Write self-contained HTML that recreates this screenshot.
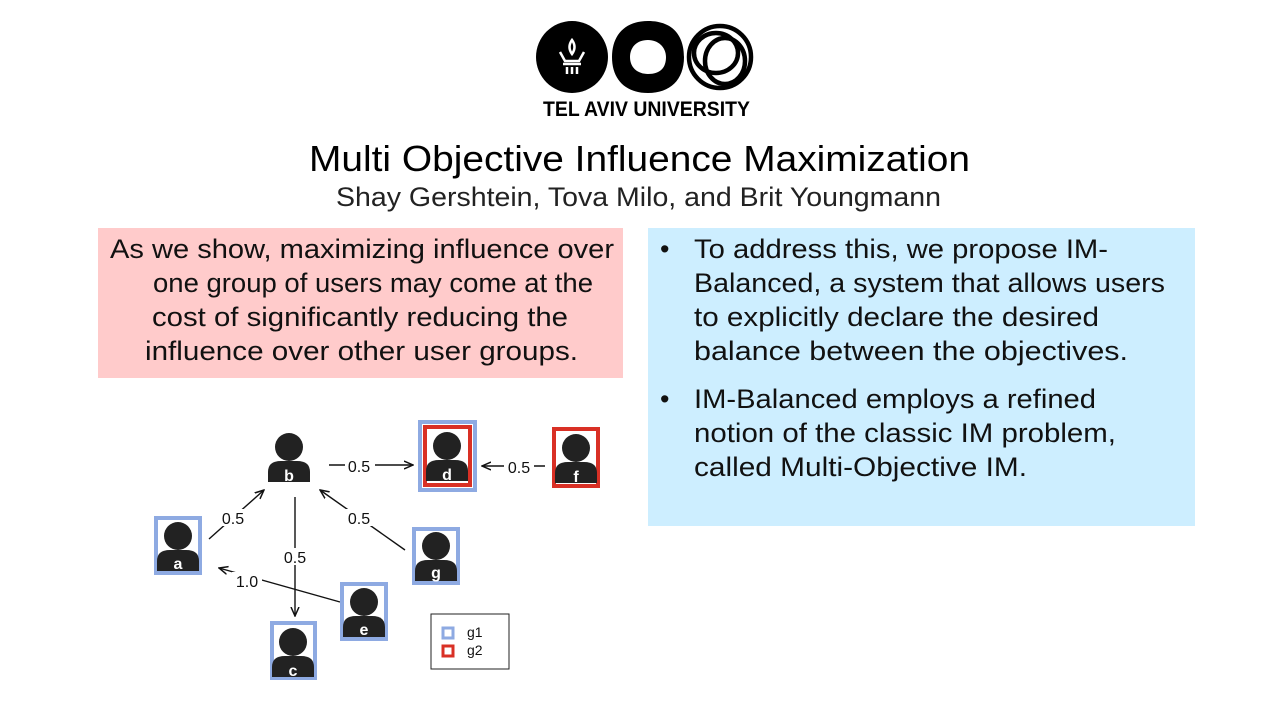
<!DOCTYPE html>
<html><head><meta charset="utf-8"><style>html,body{margin:0;padding:0;background:#fff;}svg{display:block}</style></head>
<body>
<svg width="1280" height="720" viewBox="0 0 1280 720" xmlns="http://www.w3.org/2000/svg" font-family="Liberation Sans, sans-serif">
<defs>
<marker id="ar" markerWidth="10" markerHeight="10" refX="9" refY="5" orient="auto" markerUnits="userSpaceOnUse">
<path d="M0,1 L9,5 L0,9" fill="none" stroke="#111" stroke-width="1.5"/>
</marker>
<g id="p">
<circle cx="0" cy="-11" r="14" fill="#222"/>
<path d="M-21,24 V14 Q-21,3 -8,3 L8,3 Q21,3 21,14 V24 Z" fill="#222"/>
</g>
</defs>
<!-- logo -->
<circle cx="572" cy="57" r="36" fill="#000"/>
<path d="M572,40 q5,7 0,14 q-5,-7 0,-14z M560,52 l5,9 h14 l5,-9 M563,64 h18 M567,67 v7 M572,67 v7 M577,67 v7" fill="none" stroke="#fff" stroke-width="2.5"/>
<path fill="#000" fill-rule="evenodd" d="M648,21 C675,21 684,38 684,57 C684,80 670,93 648,93 C626,93 612,80 612,57 C612,36 624,21 648,21 Z M648,40 C636,40 630,48 630,57 C630,68 638,74 648,74 C660,74 666,68 666,57 C666,47 658,40 648,40 Z"/>
<g fill="none" stroke="#000" stroke-width="4.5">
<circle cx="720" cy="57" r="31"/>
<ellipse cx="716" cy="53" rx="22" ry="20"/>
<ellipse cx="725" cy="61" rx="20" ry="23"/>
</g>
<text x="543" y="116" font-size="21" font-weight="bold" textLength="207" lengthAdjust="spacingAndGlyphs">TEL AVIV UNIVERSITY</text>
<!-- title -->
<text x="309" y="171" font-size="36" textLength="661" lengthAdjust="spacingAndGlyphs">Multi Objective Influence Maximization</text>
<text x="336" y="206" font-size="27" fill="#222" textLength="605" lengthAdjust="spacingAndGlyphs">Shay Gershtein, Tova Milo, and Brit Youngmann</text>
<!-- boxes -->
<rect x="98" y="228" width="525" height="150" fill="#ffcbcb"/>
<rect x="648" y="228" width="547" height="298" fill="#cdeeff"/>
<g font-size="27" fill="#111">
<text x="110" y="258" textLength="504" lengthAdjust="spacingAndGlyphs">As we show, maximizing influence over</text>
<text x="153" y="292" textLength="440" lengthAdjust="spacingAndGlyphs">one group of users may come at the</text>
<text x="152" y="326" textLength="416" lengthAdjust="spacingAndGlyphs">cost of significantly reducing the</text>
<text x="145" y="360" textLength="433" lengthAdjust="spacingAndGlyphs">influence over other user groups.</text>
<text x="660" y="258">•</text>
<text x="694" y="258" textLength="414" lengthAdjust="spacingAndGlyphs">To address this, we propose IM-</text>
<text x="694" y="292" textLength="471" lengthAdjust="spacingAndGlyphs">Balanced, a system that allows users</text>
<text x="694" y="326" textLength="405" lengthAdjust="spacingAndGlyphs">to explicitly declare the desired</text>
<text x="694" y="360" textLength="434" lengthAdjust="spacingAndGlyphs">balance between the objectives.</text>
<text x="660" y="408">•</text>
<text x="694" y="408" textLength="402" lengthAdjust="spacingAndGlyphs">IM-Balanced employs a refined</text>
<text x="694" y="442" textLength="422" lengthAdjust="spacingAndGlyphs">notion of the classic IM problem,</text>
<text x="694" y="476" textLength="333" lengthAdjust="spacingAndGlyphs">called Multi-Objective IM.</text>
</g>
<!-- graph edges -->
<g stroke="#111" stroke-width="1.4" fill="none" marker-end="url(#ar)">
<line x1="329" y1="465" x2="413" y2="465"/>
<line x1="545" y1="466" x2="482" y2="466"/>
<line x1="209" y1="539" x2="264" y2="490"/>
<line x1="405" y1="550" x2="320" y2="490"/>
<line x1="295" y1="497" x2="295" y2="616"/>
<line x1="340" y1="602" x2="219" y2="568"/>
</g>
<g font-size="16" fill="#111" text-anchor="middle">
<rect x="345" y="457" width="30" height="17" fill="#fff"/><text x="359" y="472">0.5</text>
<rect x="504" y="458" width="30" height="17" fill="#fff"/><text x="519" y="473">0.5</text>
<rect x="218" y="509" width="30" height="17" fill="#fff"/><text x="233" y="524">0.5</text>
<rect x="344" y="509" width="30" height="17" fill="#fff"/><text x="359" y="524">0.5</text>
<rect x="280" y="548" width="30" height="17" fill="#fff"/><text x="295" y="563">0.5</text>
<rect x="232" y="572" width="30" height="17" fill="#fff"/><text x="247" y="587">1.0</text>
</g>
<!-- nodes -->
<g fill="none" stroke-width="4">
<rect x="420" y="422" width="55" height="68" stroke="#8eaae2"/>
<rect x="425" y="427" width="45" height="58" stroke="#d93025"/>
<rect x="554" y="429" width="44" height="57" stroke="#d93025"/>
<rect x="156" y="518" width="44" height="55" stroke="#8eaae2"/>
<rect x="414" y="529" width="44" height="54" stroke="#8eaae2"/>
<rect x="342" y="584" width="44" height="55" stroke="#8eaae2"/>
<rect x="272" y="623" width="43" height="55" stroke="#8eaae2"/>
</g>
<use href="#p" x="289" y="458"/>
<use href="#p" x="447" y="457"/>
<use href="#p" x="576" y="459"/>
<use href="#p" x="178" y="547"/>
<use href="#p" x="436" y="557"/>
<use href="#p" x="364" y="613"/>
<use href="#p" x="293" y="653"/>
<g font-size="16" font-weight="bold" fill="#fff" text-anchor="middle">
<text x="289" y="481">b</text><text x="447" y="480">d</text><text x="576" y="482">f</text>
<text x="178" y="569">a</text><text x="436" y="578">g</text><text x="364" y="635">e</text><text x="293" y="676">c</text>
</g>
<!-- legend -->
<rect x="431" y="614" width="78" height="55" fill="#fff" stroke="#222" stroke-width="1"/>
<rect x="443" y="628" width="10" height="10" fill="#fff" stroke="#8eaae2" stroke-width="3"/>
<rect x="443" y="646" width="10" height="10" fill="#fff" stroke="#d93025" stroke-width="3"/>
<text x="467" y="637" font-size="14" fill="#111">g1</text>
<text x="467" y="655" font-size="14" fill="#111">g2</text>
</svg>
</body></html>
